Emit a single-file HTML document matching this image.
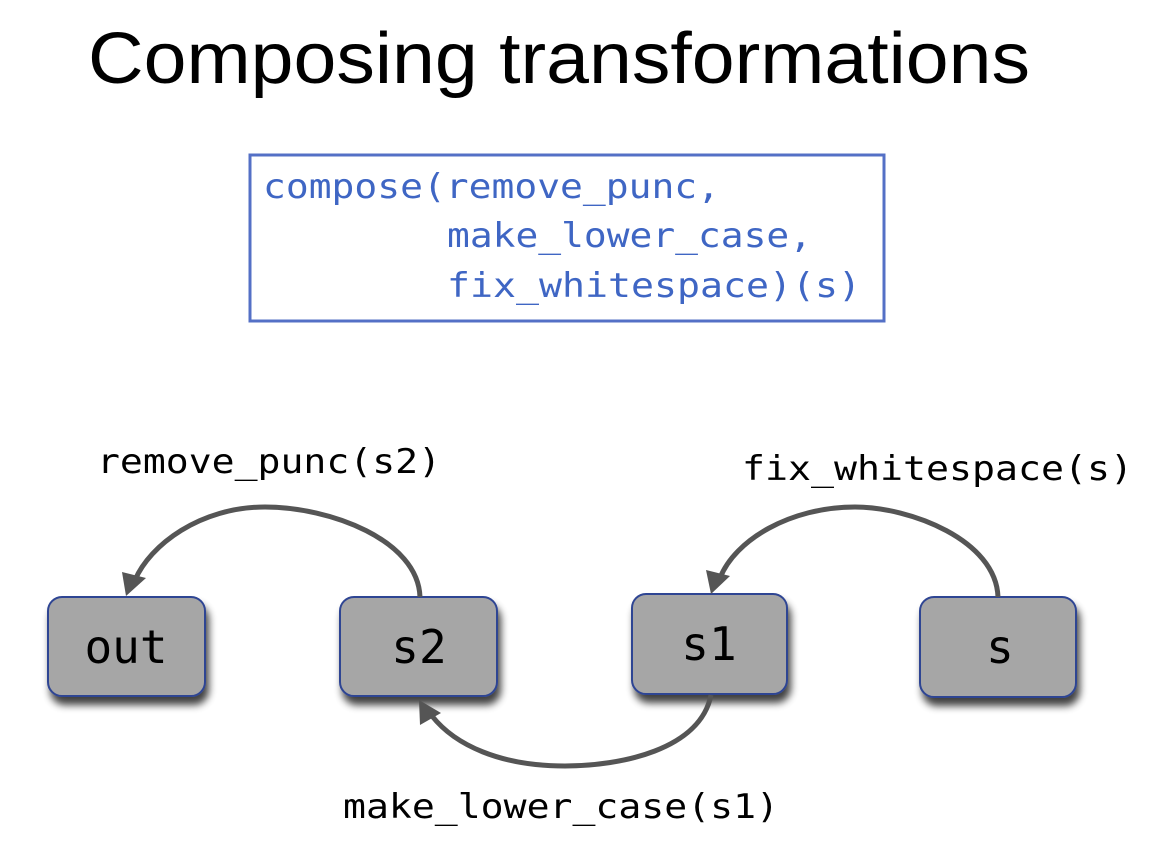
<!DOCTYPE html>
<html><head><meta charset="utf-8"><style>
html,body{margin:0;padding:0;background:#fff;width:1161px;height:855px;overflow:hidden}
</style></head><body>
<svg width="1161" height="855" viewBox="0 0 1161 855" xmlns="http://www.w3.org/2000/svg">
<defs>
<filter id="sh" x="-20%" y="-20%" width="140%" height="160%"><feGaussianBlur in="SourceAlpha" stdDeviation="4"/><feOffset dx="3" dy="8"/><feComponentTransfer><feFuncA type="linear" slope="0.75"/></feComponentTransfer><feMerge><feMergeNode/><feMergeNode in="SourceGraphic"/></feMerge></filter>
</defs>
<text x="88" y="83" font-family="Liberation Sans, sans-serif" font-size="72" textLength="942" lengthAdjust="spacingAndGlyphs">Composing transformations</text>
<rect x="250" y="155" width="634" height="166" fill="#fff" stroke="#5470c6" stroke-width="3"/>
<g font-family="DejaVu Sans Mono, Liberation Mono, monospace" font-size="34" fill="#3f66c4">
<text x="263" y="198" textLength="457" lengthAdjust="spacingAndGlyphs">compose(remove_punc,</text>
<text x="447" y="247" textLength="365" lengthAdjust="spacingAndGlyphs">make_lower_case,</text>
<text x="447" y="297" textLength="414" lengthAdjust="spacingAndGlyphs">fix_whitespace)(s)</text>
</g>
<g fill="#a6a6a6" stroke="#2f4593" stroke-width="2" filter="url(#sh)">
<rect x="48" y="597" width="157" height="99" rx="14"/>
<rect x="340" y="597" width="157" height="99" rx="14"/>
<rect x="632" y="594" width="155" height="100" rx="14"/>
<rect x="920" y="597" width="156" height="100" rx="14"/>
</g>
<g font-family="DejaVu Sans Mono, Liberation Mono, monospace" font-size="46" fill="#000" text-anchor="middle">
<text x="126" y="663">out</text>
<text x="419" y="663">s2</text>
<text x="709" y="660">s1</text>
<text x="1000" y="663">s</text>
</g>
<g fill="none" stroke="#555" stroke-width="5">
<path d="M420 597 C418 540 330 507 265 507 C200 507 150 545 135 580"/>
<path d="M998 597 C996 540 910 507 855 507 C790 507 735 540 720 578"/>
<path d="M711 695 C700 750 620 766 565 766 C500 766 455 745 432 716"/>
</g>
<g fill="#555">
<polygon points="126,596 122,572 146,578"/>
<polygon points="711,594 706,570 730,576"/>
<polygon points="419,700 441,713 420,725"/>
</g>
<g font-family="DejaVu Sans Mono, Liberation Mono, monospace" font-size="34" fill="#000">
<text x="97" y="473" textLength="344" lengthAdjust="spacingAndGlyphs">remove_punc(s2)</text>
<text x="742" y="480" textLength="391" lengthAdjust="spacingAndGlyphs">fix_whitespace(s)</text>
<text x="343" y="818" textLength="436" lengthAdjust="spacingAndGlyphs">make_lower_case(s1)</text>
</g>
</svg>
</body></html>
